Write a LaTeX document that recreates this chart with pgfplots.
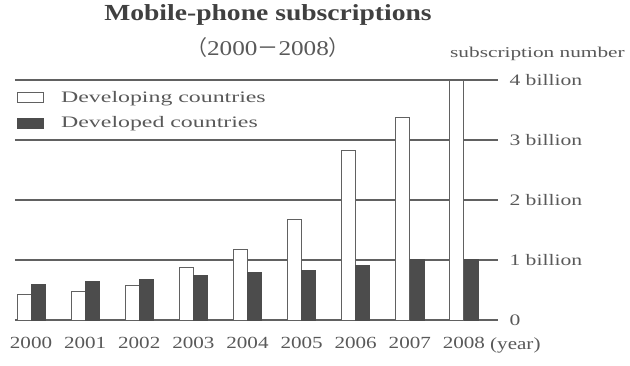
\documentclass[border=0pt]{standalone}
\usepackage{pgfplots}
\pgfplotsset{compat=1.18}
\usepackage{fontspec}
\setmainfont{Liberation Serif}
\newfontfamily\titlefont[FakeStretch=1.2]{Liberation Serif}
\newfontfamily\tickfont[FakeStretch=1.35]{Liberation Serif}
\newfontfamily\legfont[FakeStretch=1.49]{Liberation Serif}
\newfontfamily\xfont[FakeStretch=1.24]{Liberation Serif}
\newfontfamily\subnumfont[FakeStretch=1.42]{Liberation Serif}
\newfontfamily\cjk{Noto Sans CJK SC}
\definecolor{txt}{gray}{0.35}
\definecolor{gridc}{gray}{0.38}
\definecolor{darkbar}{gray}{0.3}
\begin{document}
\begin{tikzpicture}
\useasboundingbox (-15pt,-45pt) rectangle (615pt,320pt);
\begin{axis}[
  at={(0pt,0pt)}, anchor=south west,
  scale only axis, width=483pt, height=240pt,
  xmin=-0.296, xmax=8.63, ymin=0, ymax=4,
  ybar=0pt, bar width=14pt,
  axis line style={draw=none},
  major tick length=0pt,
  xtick={0,...,8},
  xticklabels={2000,2001,2002,2003,2004,2005,2006,2007,2008},
  xticklabel style={font=\fontsize{17}{20}\selectfont\xfont, text=txt, anchor=base, yshift=-28pt},
  ytick={0,1,2,3,4},
  yticklabels={0,1 billion,2 billion,3 billion,4 billion},
  yticklabel pos=right,
  yticklabel style={font=\fontsize{16}{19}\selectfont\tickfont, text=txt, anchor=west, xshift=8pt},
  ymajorgrids, grid style={draw=gridc, line width=1.3pt},
  clip=false,
  legend style={at={(0,1)}, anchor=north west, draw=none, fill=none,
    font=\fontsize{16}{19}\selectfont\legfont, text=txt,
    row sep=9pt, inner xsep=0pt, inner ysep=9pt,
    legend cell align=left},
  legend image code/.code={\path[draw=none, fill=none] (0pt,0pt) -- (44pt,0pt);\draw[#1, line width=1pt] (2pt,-5pt) rectangle (28pt,5pt);},
]
\addplot[fill=white, draw=gridc, line width=1pt] coordinates {
 (0,0.42) (1,0.47) (2,0.58) (3,0.87) (4,1.17) (5,1.67) (6,2.82) (7,3.37) (8,4.0)};
\addplot[fill=darkbar, draw=darkbar, line width=0.6pt] coordinates {
 (0,0.60) (1,0.65) (2,0.68) (3,0.75) (4,0.80) (5,0.83) (6,0.91) (7,1.01) (8,1.01)};
\legend{Developing countries, Developed countries}
\end{axis}
\node[anchor=base, text=black!75] at (253pt,299pt) {\fontsize{23}{26}\selectfont\titlefont\bfseries Mobile-phone subscriptions};
\node[anchor=base, text=txt] at (253pt,265pt) {\fontsize{21}{24}\selectfont\titlefont{\cjk （}2000{\cjk －}2008{\cjk ）}};
\node[anchor=base west, text=txt, inner sep=0pt] at (435pt,262pt) {\fontsize{15}{18}\selectfont\subnumfont subscription number};
\node[anchor=base west, text=txt, inner sep=0pt] at (475pt,-29pt) {\fontsize{17}{20}\selectfont\xfont (year)};
\end{tikzpicture}
\end{document}
